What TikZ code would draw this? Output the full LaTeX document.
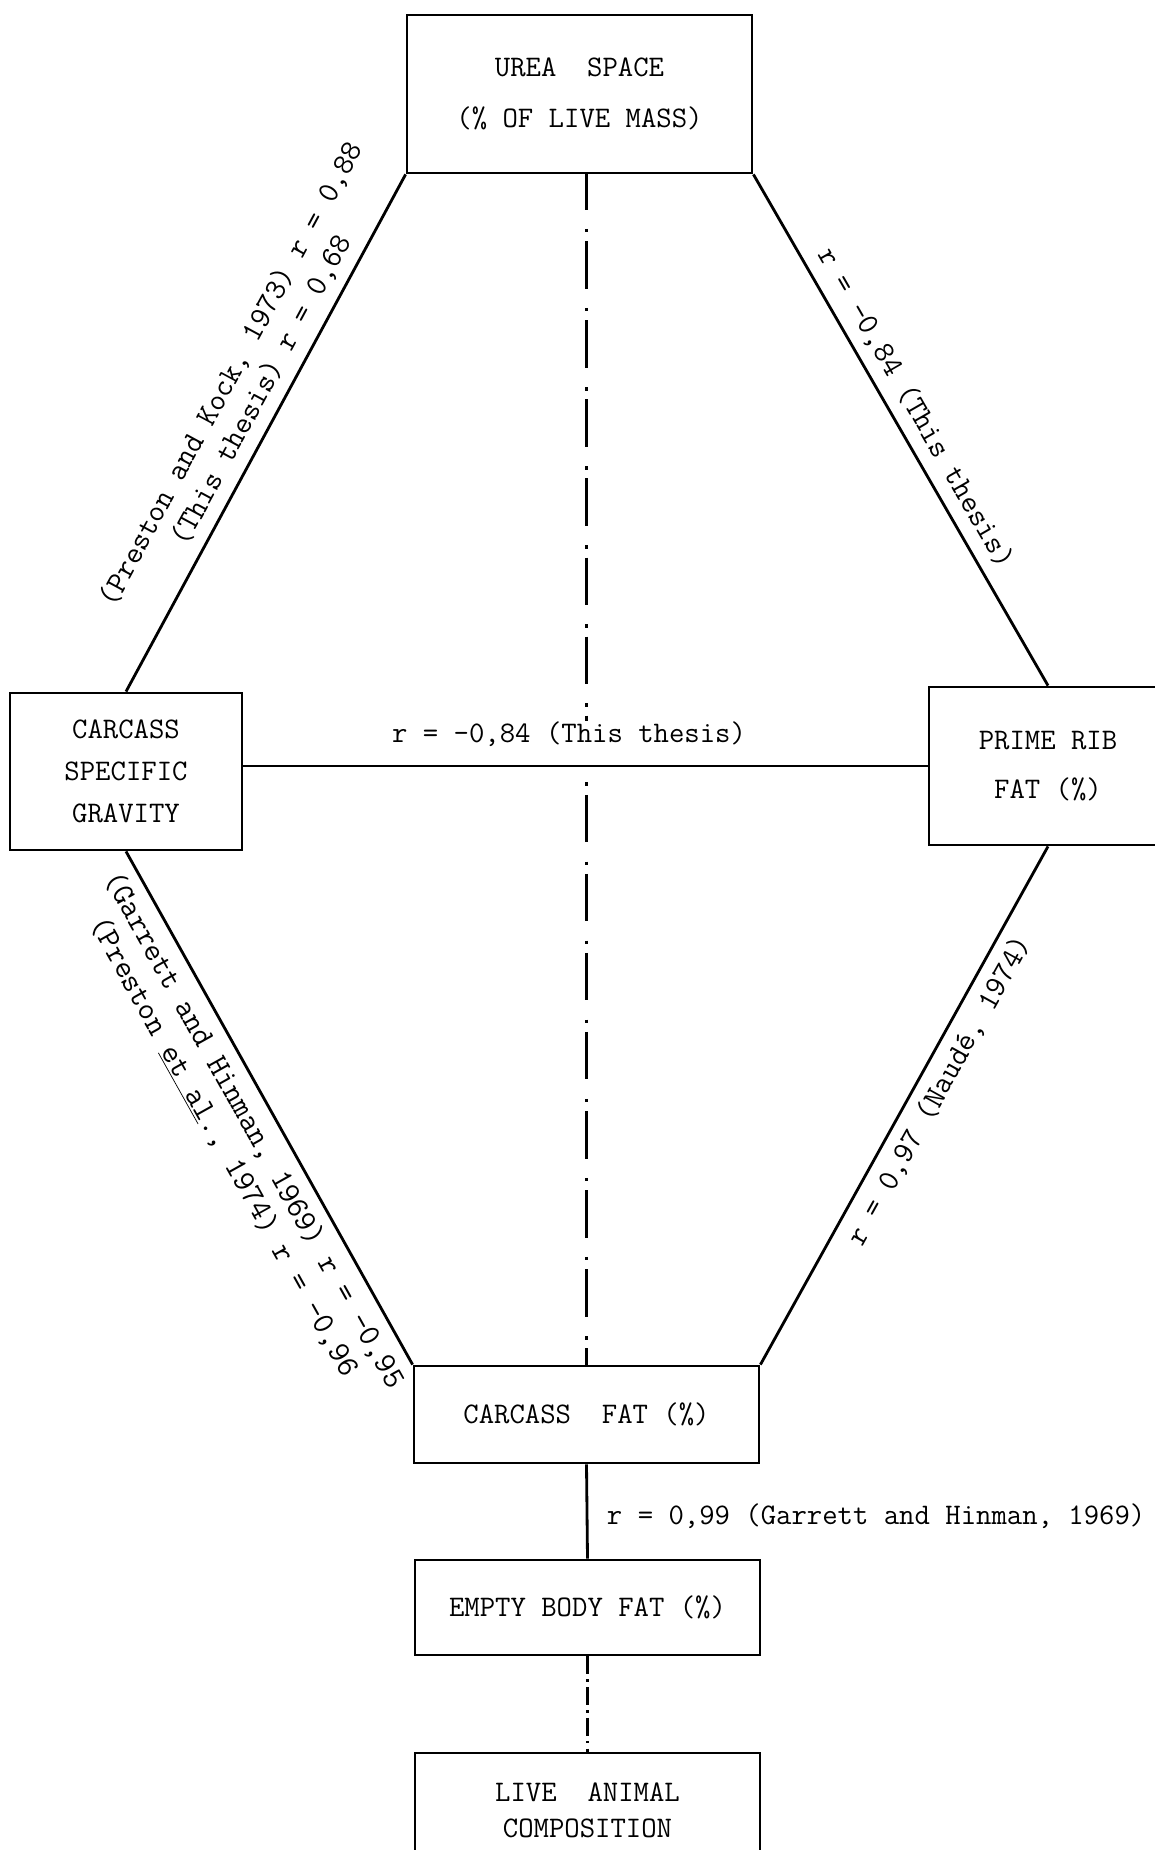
\documentclass[tikz,border=0pt]{standalone}
\usepackage{fontspec}
\tikzset{
  box/.style={draw, line width=1.6pt, align=center, inner sep=0pt,
    font=\ttfamily\fontsize{17}{29}\selectfont},
  link/.style={line width=1.6pt},
  chain/.style={line width=1.6pt, dash pattern=on 27pt off 11pt on 2pt off 5pt, dash phase=7pt},
  shortchain/.style={line width=1.6pt, dash pattern=on 10pt off 3pt on 1.5pt off 3pt},
  corr/.style={align=center, inner sep=2pt, font=\ttfamily\fontsize{17}{19}\selectfont},
  slant/.style={corr, inner sep=5.5pt, sloped, font=\ttfamily\fontsize{17.5}{19.5}\selectfont}
}
\begin{document}
\begin{tikzpicture}[x=0.2mm,y=-0.2mm]
		\useasboundingbox (0,0) rectangle (1155,1850);
		% boxes
		\node[box, minimum width=69mm, minimum height=31.6mm] (urea) at (579.5,94) {UREA\ \ SPACE\\(\% OF LIVE MASS)};
		\node[box, minimum width=46.4mm, minimum height=31.4mm, font=\ttfamily\fontsize{17}{24}\selectfont] (csg) at (126,771.5) {CARCASS\\SPECIFIC\\GRAVITY};
		\node[box, minimum width=47.6mm, minimum height=31.6mm, font=\ttfamily\fontsize{17}{28}\selectfont] (prime) at (1048,766) {PRIME RIB\\FAT (\%)};
		\node[box, minimum width=69mm, minimum height=19.4mm] (cfat) at (586.5,1414.5) {CARCASS\ \ FAT (\%)};
		\node[box, minimum width=69mm, minimum height=19mm] (ebf) at (587.5,1607.5) {EMPTY BODY FAT (\%)};
		\node[box, minimum width=69mm, minimum height=23mm, font=\ttfamily\fontsize{17}{20.5}\selectfont] (live) at (587.5,1810.5) {LIVE\ \ ANIMAL\\COMPOSITION};
		% dash-dot links
		\draw[chain] (cfat.north |- urea.south) -- (cfat.north);
		\draw[shortchain] (ebf.south) -- (live.north);
		% correlations
		\draw[link] (csg.north) -- (urea.south west) node[slant, pos=0.56, above] (ullab) {(Preston and Kock, 1973) r = 0,88\\(This thesis) r = 0,68};
		\draw[link] (urea.south east) -- (prime.north) node[slant, pos=0.48, above] (urlab) {r = -0,84 (This thesis)};
		\draw[link] (prime.west -| csg.east) -- (prime.west) node[corr, pos=0.476, above=0.8pt, inner ysep=0pt, text depth=4.2mm, fill=white] (hlab) {r = -0,84 (This thesis)};
		\draw[link] (csg.south) -- (cfat.north west) node[slant, pos=0.52, below, font=\ttfamily\fontsize{18}{19.5}\selectfont] (lllab) {(Garrett and Hinman, 1969) r = -0,95\\(Preston \underline{et al}., 1974) r = -0,96};
		\draw[link] (cfat.north east) -- (prime.south) node[slant, pos=0.55, below] (lrlab) {r = 0,97 (Naudé, 1974)};
		\draw[link] (cfat.south) -- (ebf.north) node[corr, pos=0.55, right=3mm] (vlab) {r = 0,99 (Garrett and Hinman, 1969)};
\end{tikzpicture}
\end{document}
